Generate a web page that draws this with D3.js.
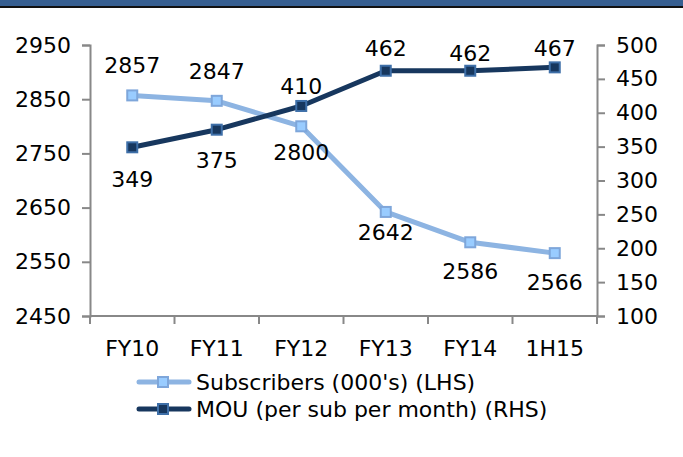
<!DOCTYPE html>
<html>
<head>
<meta charset="utf-8">
<script src="https://cdn.jsdelivr.net/npm/d3@7"></script>
<style>
  body { margin: 0; background: #fff; }
  svg text { font-family: "DejaVu Sans", Verdana, sans-serif; fill: #000; }
</style>
</head>
<body>
<svg id="chart" width="683" height="457"></svg>
<script>
// Data
let periods = ["FY10", "FY11", "FY12", "FY13", "FY14", "1H15"];
let subscribers = [2857, 2847, 2800, 2642, 2586, 2566];
let mou = [349, 375, 410, 462, 462, 467];
let leftTicks = [2450, 2550, 2650, 2750, 2850, 2950];
let rightTicks = [100, 150, 200, 250, 300, 350, 400, 450, 500];
let seriesNames = ["Subscribers (000's) (LHS)", "MOU (per sub per month) (RHS)"];

// label nudges (px from marker, + is below), as placed in the original
let subsLabelDy = [-30, -29, 26, 21, 29, 29];
let mouLabelDy = [32, 31, -19, -22, -17, -19];

let svg = d3.select("#chart");
let fontSize = 22;
let axisColor = "#888888";

// header strip
svg.append("rect").attr("x", 0).attr("y", 0).attr("width", 683).attr("height", 6).attr("fill", "#375f91");
svg.append("rect").attr("x", 0).attr("y", 6).attr("width", 683).attr("height", 2).attr("fill", "#111");

let plotLeft = 90, plotRight = 597, plotTop = 45, plotBottom = 316;

let x = d3.scalePoint().domain(periods).range([plotLeft, plotRight]).padding(0.5);
let yL = d3.scaleLinear().domain([2450, 2950]).range([plotBottom, plotTop]);
let yR = d3.scaleLinear().domain([100, 500]).range([plotBottom, plotTop]);

// axes
let axisL = svg.append("g").attr("transform", `translate(${plotLeft},0)`)
  .call(d3.axisLeft(yL).tickValues(leftTicks).tickFormat(d3.format("d")).tickSize(8).tickPadding(11));
let axisR = svg.append("g").attr("transform", `translate(${plotRight},0)`)
  .call(d3.axisRight(yR).tickValues(rightTicks).tickFormat(d3.format("d")).tickSize(8).tickPadding(11));

// x axis with ticks at category boundaries
let band = (plotRight - plotLeft) / periods.length;
let xb = svg.append("g");
xb.append("line").attr("x1", plotLeft).attr("x2", plotRight).attr("y1", plotBottom).attr("y2", plotBottom)
  .attr("stroke", axisColor).attr("stroke-width", 2);
xb.selectAll("line.tk").data(d3.range(periods.length + 1)).join("line")
  .attr("class", "tk")
  .attr("x1", i => plotLeft + i * band).attr("x2", i => plotLeft + i * band)
  .attr("y1", plotBottom).attr("y2", plotBottom + 8)
  .attr("stroke", axisColor).attr("stroke-width", 2);
xb.selectAll("text").data(periods).join("text")
  .attr("x", d => x(d)).attr("y", 348)
  .attr("text-anchor", "middle").attr("dominant-baseline", "central")
  .attr("font-size", fontSize).text(d => d);

[axisL, axisR].forEach(g => {
  g.select(".domain").attr("stroke", axisColor).attr("stroke-width", 2);
  g.selectAll(".tick line").attr("stroke", axisColor).attr("stroke-width", 2);
  g.selectAll(".tick text").attr("font-size", fontSize).attr("fill", "#000")
    .attr("font-family", "DejaVu Sans, Verdana, sans-serif");
});

function drawSeries(values, y, lineColor, markerFill, markerStroke, labelDy) {
  let pts = values.map((v, i) => [x(periods[i]), y(v)]);
  svg.append("path").datum(pts)
    .attr("d", d3.line())
    .attr("fill", "none").attr("stroke", lineColor).attr("stroke-width", 5)
    .attr("stroke-linejoin", "round");
  svg.selectAll(null).data(pts).join("rect")
    .attr("x", d => d[0] - 5).attr("y", d => d[1] - 5)
    .attr("width", 10).attr("height", 10)
    .attr("fill", markerFill).attr("stroke", markerStroke).attr("stroke-width", 2);
  svg.selectAll(null).data(values).join("text")
    .attr("x", (d, i) => pts[i][0])
    .attr("y", (d, i) => pts[i][1] + labelDy[i])
    .attr("text-anchor", "middle").attr("dominant-baseline", "central")
    .attr("font-size", fontSize).text(d => d);
}

drawSeries(subscribers, yL, "#8db4e2", "#99ccff", "#7ea6da", subsLabelDy);
drawSeries(mou, yR, "#17375e", "#17375e", "#3e6fa8", mouLabelDy);

// legend
let legend = svg.append("g");
let legendRows = [
  { name: seriesNames[0], line: "#8db4e2", fill: "#99ccff", stroke: "#7ea6da", y: 382 },
  { name: seriesNames[1], line: "#17375e", fill: "#17375e", stroke: "#3e6fa8", y: 409 }
];
legendRows.forEach(r => {
  legend.append("line").attr("x1", 139).attr("x2", 189).attr("y1", r.y).attr("y2", r.y)
    .attr("stroke", r.line).attr("stroke-width", 5).attr("stroke-linecap", "round");
  legend.append("rect").attr("x", 158).attr("y", r.y - 5).attr("width", 10).attr("height", 10)
    .attr("fill", r.fill).attr("stroke", r.stroke).attr("stroke-width", 2);
  legend.append("text").attr("x", 196).attr("y", r.y)
    .attr("dominant-baseline", "central").attr("font-size", fontSize).text(r.name);
});
</script>
</body>
</html>
